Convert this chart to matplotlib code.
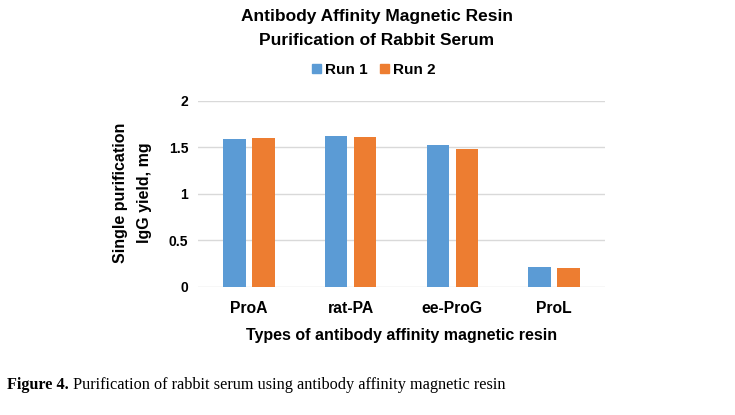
import matplotlib
matplotlib.use("Agg")
import matplotlib.pyplot as plt
import numpy as np
from matplotlib.patches import Patch

# Data
categories = ["ProA", "rat-PA", "ee-ProG", "ProL"]
run1 = [1.59, 1.62, 1.52, 0.21]
run2 = [1.60, 1.61, 1.48, 0.20]
y_ticks = [0, 0.5, 1, 1.5, 2]
y_tick_labels = ["0", "0.5", "1", "1.5", "2"]

BLUE = "#5B9BD5"
ORANGE = "#ED7D31"
GRID = "#D9D9D9"

plt.rcParams['font.family'] = ['Liberation Sans', 'DejaVu Sans']

fig = plt.figure(figsize=(7.35, 4.15), dpi=100)
ax = fig.add_axes([198 / 735, 1 - 286.7 / 415, 407 / 735, 186 / 415])

x = np.arange(len(categories))
w = 0.222
off = 0.143
ax.bar(x - off, run1, width=w, color=BLUE, zorder=3, label="Run 1")
ax.bar(x + off, run2, width=w, color=ORANGE, zorder=3, label="Run 2")

ax.set_xlim(-0.5, len(categories) - 0.5)
ax.set_ylim(0, 2)
ax.set_yticks(y_ticks)
ax.set_yticklabels(y_tick_labels, fontsize=10, fontweight='bold')
ax.set_xticks(x)
ax.set_xticklabels(categories, fontsize=11.3, fontweight='bold')
ax.tick_params(axis='both', length=0, pad=7)
ax.tick_params(axis='x', pad=10)
ax.grid(axis='y', color=GRID, linewidth=1.0, zorder=0)
for s in ["top", "right", "left", "bottom"]:
    ax.spines[s].set_visible(False)

ax.set_xlabel("Types of antibody affinity magnetic resin", fontsize=11.5,
              fontweight='bold', labelpad=9)
fig.text(132.5 / 735, 1 - 193 / 415, "Single purification\nIgG yield, mg",
         rotation=90, ha='center', va='center', fontsize=11.5,
         fontweight='bold', linespacing=1.75)

# Title and legend
fig.text(377 / 735, 1 - 17 / 415, "Antibody Affinity Magnetic Resin",
         ha='center', va='center', fontsize=12.5, fontweight='bold')
fig.text(377 / 735, 1 - 40.5 / 415, "Purification of Rabbit Serum",
         ha='center', va='center', fontsize=12.5, fontweight='bold')
handles = [Patch(color=BLUE, label="Run 1"), Patch(color=ORANGE, label="Run 2")]
fig.legend(handles=handles, loc='center', bbox_to_anchor=(374 / 735, 1 - 70 / 415),
           ncol=2, frameon=False, prop={'weight': 'bold', 'size': 11},
           handlelength=0.55, handleheight=0.55, handletextpad=0.3,
           columnspacing=0.8)

# Caption with bold lead
cap1 = fig.text(7 / 735, 1 - 385 / 415, "Figure 4.", ha='left', va='center',
                fontsize=11.7, fontweight='bold', family='Liberation Serif')
fig.canvas.draw()
bb = cap1.get_window_extent()
fig.text((bb.x1 + 4) / 735, 1 - 385 / 415,
         "Purification of rabbit serum using antibody affinity magnetic resin",
         ha='left', va='center', fontsize=11.7, family='Liberation Serif')

fig.savefig("out.png", dpi=100)
